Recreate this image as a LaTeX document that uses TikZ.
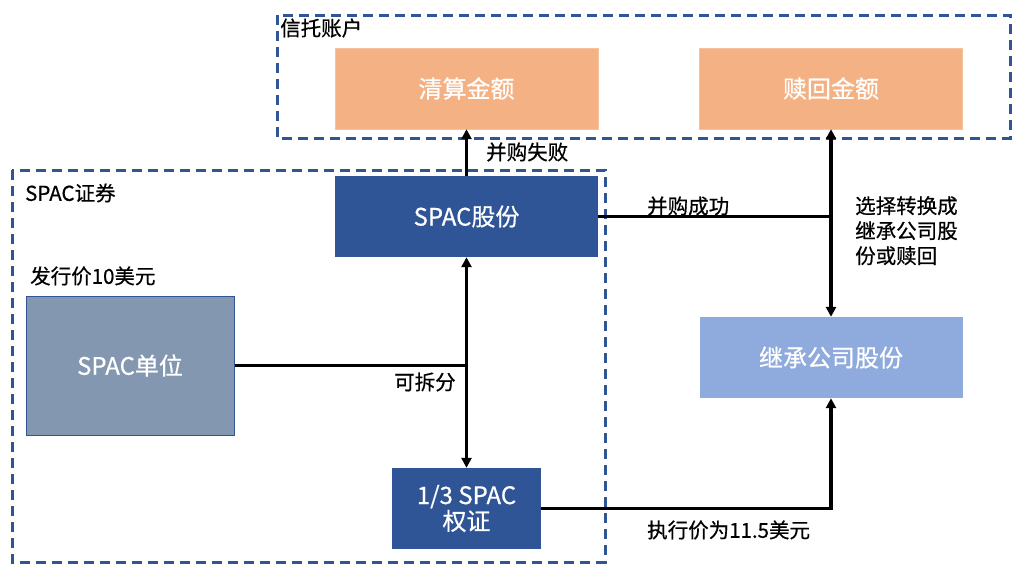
\documentclass[tikz,border=0pt]{standalone}
\usepackage{fontspec}
\setmainfont{Noto Sans CJK SC}[BoldFont=Noto Sans CJK SC,BoldFeatures={FakeBold=0.6}]
\usepackage{tikz}
\usepackage{xcolor}
\usetikzlibrary{arrows.meta}
\definecolor{darkblue}{HTML}{2F5597}
\definecolor{peach}{HTML}{F4B183}
\definecolor{skyblue}{HTML}{8FAADC}
\definecolor{slate}{HTML}{8497B0}

\begin{document}
\begin{tikzpicture}[x=1pt,y=-1pt,
    box/.style={minimum width=263pt,minimum height=81pt,inner sep=0pt,text=white,font=\fontsize{24}{28}\selectfont\bfseries,align=center},
    lbl/.style={font=\fontsize{20.5}{25}\selectfont\bfseries,inner sep=0pt,align=left},
    link/.style={line width=3.5pt},
    arr/.style={link,-{Triangle[length=10pt,width=10pt]}},
    frame/.style={darkblue,line width=3pt,dash pattern=on 10pt off 6pt}]
    \useasboundingbox (0,0) rectangle (1024,574);
    % dashed groups
    \draw[frame] (277,15) rectangle (1010,138);
    \draw[frame] (12,170) rectangle (605,562);
    \node[lbl,anchor=west] (trust) at (280,28) {信托账户};
    \node[lbl,anchor=west] (securities) at (25,193) {SPAC证券};
    % boxes
    \node[box,fill=peach,draw=peach!80!white] (qingsuan) at (466.5,88.5) {清算金额};
    \node[box,fill=peach,draw=peach!80!white] (shuhui) at (831,88.5) {赎回金额};
    \node[box,fill=darkblue] (gufen) at (466.5,216.5) {SPAC股份};
    \node[box,fill=slate,draw=darkblue,line width=1pt,minimum width=208pt,minimum height=139pt] (danwei) at (130,365.5) {SPAC单位};
    \node[box,fill=darkblue,minimum width=149pt] (quanzheng) at (466.5,508.5) {1/3 SPAC\\[-2pt]权证};
    \node[box,fill=skyblue] (jicheng) at (831,357.5) {继承公司股份};
    \node[lbl,anchor=west] (price) at (30,276) {发行价10美元};
    % connectors
    \coordinate (split) at (gufen.south |- danwei.east);
    \coordinate (turn) at (shuhui.south |- gufen.east);
    \draw[arr] (gufen.north) -- (qingsuan.south);
    \draw[link] (danwei.east) -- (split);
    \draw[arr] (split) -- (gufen.south);
    \draw[arr] (split) -- (quanzheng.north);
    \draw[link] (gufen.east) -- (turn);
    \draw[arr,{Triangle[length=10pt,width=10pt]}-{Triangle[length=10pt,width=10pt]}] (shuhui.south) -- (jicheng.north);
    \draw[arr] (quanzheng.east) -| (jicheng.south);
    % connector labels
    \node[lbl,anchor=west] (fail) at (486,152) {并购失败};
    \node[lbl,anchor=west] (split lbl) at (394,382) {可拆分};
    \node[lbl,anchor=west] (success) at (647,206) {并购成功};
    \node[lbl,anchor=north west] (choice) at (855,196) {选择转换成\\继承公司股\\份或赎回};
    \node[lbl,anchor=west] (strike) at (647,530) {执行价为11.5美元};
\end{tikzpicture}
\end{document}
